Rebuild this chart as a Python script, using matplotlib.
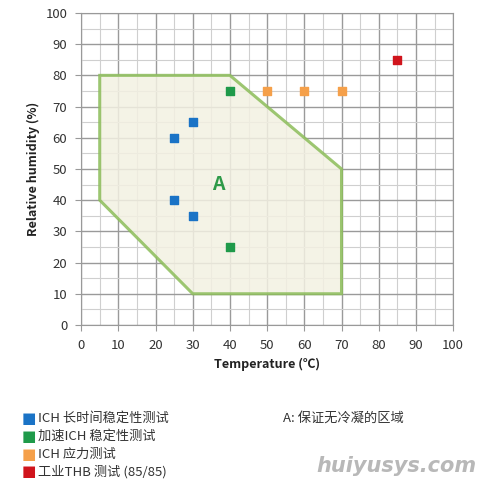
import matplotlib
matplotlib.use("Agg")
from matplotlib import pyplot as plt
from matplotlib.patches import Polygon

plt.rcParams['font.family'] = ['Noto Sans CJK SC', 'DejaVu Sans']

# zone A (no condensation) outline
zone_x = [5, 40, 70, 70, 30, 5]
zone_y = [80, 80, 50, 10, 10, 40]

# test points
blue_x = [25, 30, 25, 30]
blue_y = [60, 65, 40, 35]
green_x = [40, 40]
green_y = [75, 25]
orange_x = [50, 60, 70]
orange_y = [75, 75, 75]
red_x = [85]
red_y = [85]

legend_labels = ['ICH 长时间稳定性测试', '加速ICH 稳定性测试', 'ICH 应力测试', '工业THB 测试 (85/85)']
legend_colors = ['#1a73c6', '#1f9a4a', '#f5a04a', '#d0141c']

fig = plt.figure(figsize=(4.8, 4.8), dpi=100)
ax = fig.add_axes([0.169, 0.323, 0.775, 0.65])

ax.set_xlim(0, 100)
ax.set_ylim(0, 100)
ax.set_xticks(range(0, 101, 10))
ax.set_yticks(range(0, 101, 10))
ax.set_xticks(range(0, 101, 5), minor=True)
ax.set_yticks(range(0, 101, 5), minor=True)
ax.grid(which='major', color='#9a9a9a', linewidth=1.0)
ax.grid(which='minor', color='#cfcfcf', linewidth=0.8)
ax.set_axisbelow(True)
ax.tick_params(which='both', length=0, labelsize=9.5, colors='#333333', pad=6)
ax.tick_params(axis='x', which='major', length=4, color='#999999')
ax.tick_params(axis='y', which='major', length=4, color='#999999')
for s in ax.spines.values():
    s.set_color('#999999')

zone = Polygon(list(zip(zone_x, zone_y)), closed=True, facecolor='#f3f1e2',
               edgecolor='#8cbd5a', linewidth=2.2, alpha=0.85, zorder=2)
ax.add_patch(zone)
ax.text(37, 45, 'A', color='#2e9a48', fontsize=14, fontweight='bold',
        ha='center', va='center', zorder=3)

ms = 6
ax.scatter(blue_x, blue_y, marker='s', s=ms**2, color=legend_colors[0], zorder=4)
ax.scatter(green_x, green_y, marker='s', s=ms**2, color=legend_colors[1], zorder=4)
ax.scatter(orange_x, orange_y, marker='s', s=ms**2, color=legend_colors[2], zorder=4)
ax.scatter(red_x, red_y, marker='s', s=ms**2, color=legend_colors[3], zorder=4)

ax.set_xlabel('Temperature (℃)', fontsize=9, fontweight='bold', color='#222222', labelpad=4)
ax.set_ylabel('Relative humidity (%)', fontsize=9, fontweight='bold', color='#222222', labelpad=4)

# legend drawn by hand below the chart
y0 = 0.128
for i, (lab, col) in enumerate(zip(legend_labels, legend_colors)):
    yy = y0 - i * 0.037
    fig.text(0.045, yy, '■', color=col, fontsize=11, va='center', family=['DejaVu Sans'])
    fig.text(0.08, yy, lab, color='#333333', fontsize=9.5, va='center')

fig.text(0.59, y0, 'A: 保证无冷凝的区域', color='#333333', fontsize=9.5, va='center')
fig.text(0.66, 0.03, 'huiyusys.com', color='#b8b8b8', fontsize=15, fontweight='bold',
         style='italic', va='center', family=['DejaVu Sans'])

fig.savefig('out.png', dpi=100, facecolor='white')
